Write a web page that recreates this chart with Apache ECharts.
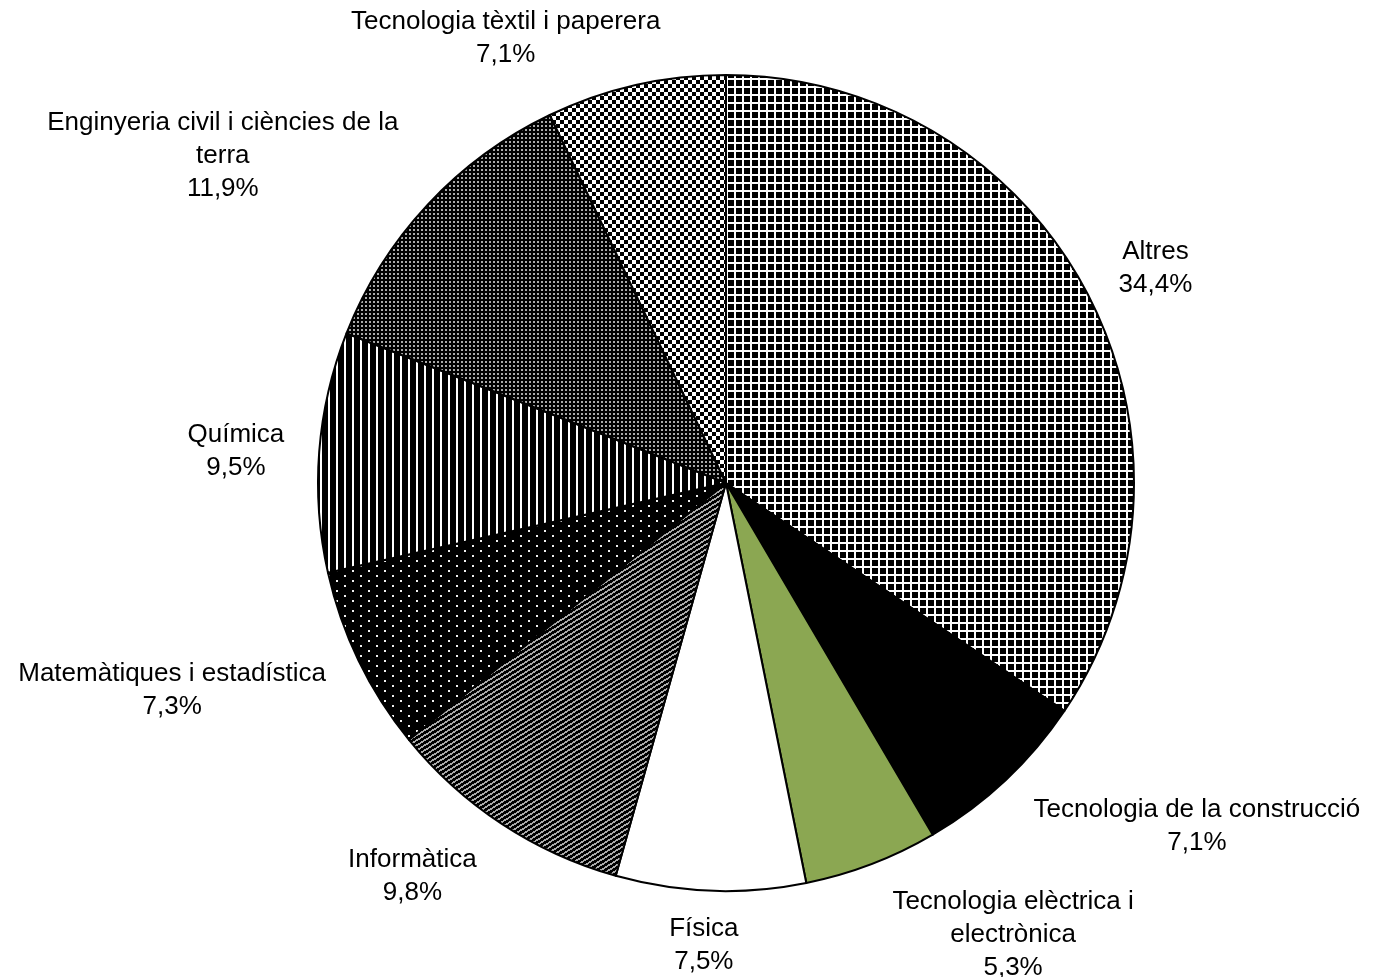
<!DOCTYPE html>
<html>
<head>
<meta charset="utf-8">
<script src="https://cdn.jsdelivr.net/npm/echarts@6/dist/echarts.min.js"></script>
<style>
  html, body { margin: 0; padding: 0; background: #fff; }
  #pieChart { width: 1373px; height: 977px; }
</style>
</head>
<body>
<div id="pieChart"></div>
<script>
  // dades
  var categories = [
    'Altres',
    'Tecnologia de la construcció',
    'Tecnologia elèctrica i\nelectrònica',
    'Física',
    'Informàtica',
    'Matemàtiques i estadística',
    'Química',
    'Enginyeria civil i ciències de la\nterra',
    'Tecnologia tèxtil i paperera'
  ]
  var percents = [34.4, 7.1, 5.3, 7.5, 9.8, 7.3, 9.5, 11.9, 7.1]

  var CX = 726, CY = 483, R = 408

  // trames en blanc i negre, com a l'Excel
  function tile(w, h, draw) {
    var c = document.createElement('canvas')
    c.width = w
    c.height = h
    var ctx = c.getContext('2d')
    draw(ctx, w, h)
    return { image: c, repeat: 'repeat' }
  }

  var patGrid = tile(8, 8, function (ctx) {
    ctx.fillStyle = '#fff'; ctx.fillRect(0, 0, 8, 8)
    ctx.fillStyle = '#000'; ctx.fillRect(0, 0, 6, 6)
  })
  var patChecker = tile(8, 8, function (ctx) {
    ctx.fillStyle = '#fff'; ctx.fillRect(0, 0, 8, 8)
    ctx.fillStyle = '#000'; ctx.fillRect(0, 0, 4, 4); ctx.fillRect(4, 4, 4, 4)
  })
  var patFine = tile(4, 4, function (ctx) {
    ctx.fillStyle = '#000'; ctx.fillRect(0, 0, 4, 4)
    ctx.fillStyle = '#aaa'; ctx.fillRect(1, 1, 2, 2)
  })
  var patVert = tile(8, 4, function (ctx) {
    ctx.fillStyle = '#000'; ctx.fillRect(0, 0, 8, 4)
    ctx.fillStyle = '#fff'; ctx.fillRect(0, 0, 2, 4)
  })
  var patDots = tile(16, 10, function (ctx) {
    ctx.fillStyle = '#000'; ctx.fillRect(0, 0, 16, 10)
    ctx.fillStyle = '#eee'; ctx.fillRect(0, 0, 2, 2); ctx.fillRect(8, 5, 2, 2)
  })
  var patDiag = tile(8, 5, function (ctx, w, h) {
    ctx.fillStyle = '#000'; ctx.fillRect(0, 0, w, h)
    ctx.fillStyle = '#aaa'
    for (var x = 0; x < w; x++) {
      var y = h - 1 - Math.floor(x * h / w)
      ctx.fillRect(x, y, 1, 1)
      ctx.fillRect(x, (y + 1) % h, 1, 1)
    }
  })

  var fills = [patGrid, '#000', '#8ba752', '#fff', patDiag, patDots, patVert, patFine, patChecker]

  var total = percents.reduce(function (a, b) { return a + b }, 0)
  function midAngle(idx) {
    var cum = 0
    for (var i = 0; i < idx; i++) cum += percents[i]
    return 2 * Math.PI * (cum + percents[idx] / 2) / total
  }

  var pieChart = echarts.init(document.getElementById('pieChart'))
  pieChart.setOption({
    backgroundColor: '#fff',
    animation: false,
    series: [{
      type: 'pie',
      center: [CX, CY],
      radius: R,
      startAngle: 90,
      clockwise: true,
      avoidLabelOverlap: false,
      itemStyle: { borderColor: '#000', borderWidth: 2 },
      label: {
        show: true,
        position: 'outside',
        color: '#000',
        fontFamily: 'Liberation Sans, Arial, sans-serif',
        fontSize: 26,
        lineHeight: 33,
        formatter: function (p) {
          return p.name + '\n' + p.value.toFixed(1).replace('.', ',') + '%'
        }
      },
      labelLine: { show: false },
      // etiquetes fora del pastís, ancorades segons l'angle
      labelLayout: function (params) {
        var a = midAngle(params.dataIndex)
        var ux = Math.sin(a), uy = -Math.cos(a)
        var px = CX + ux * (R + 22), py = CY + uy * (R + 22)
        var w = params.labelRect.width, h = params.labelRect.height
        var fx = Math.max(0, Math.min(1, 0.5 - 1.7 * ux))
        var fy = Math.max(0, Math.min(1, 0.5 - 0.6 * uy))
        var dx = 13 * Math.max(-1, Math.min(1, ux * 3))
        var dy = 4 * (1 - uy)
        return {
          x: px - fx * w + w / 2 + dx,
          y: py - fy * h + dy,
          align: 'center',
          verticalAlign: 'top'
        }
      },
      emphasis: { disabled: true },
      data: categories.map(function (name, i) {
        return { name: name, value: percents[i], itemStyle: { color: fills[i] } }
      })
    }]
  })
</script>
</body>
</html>
